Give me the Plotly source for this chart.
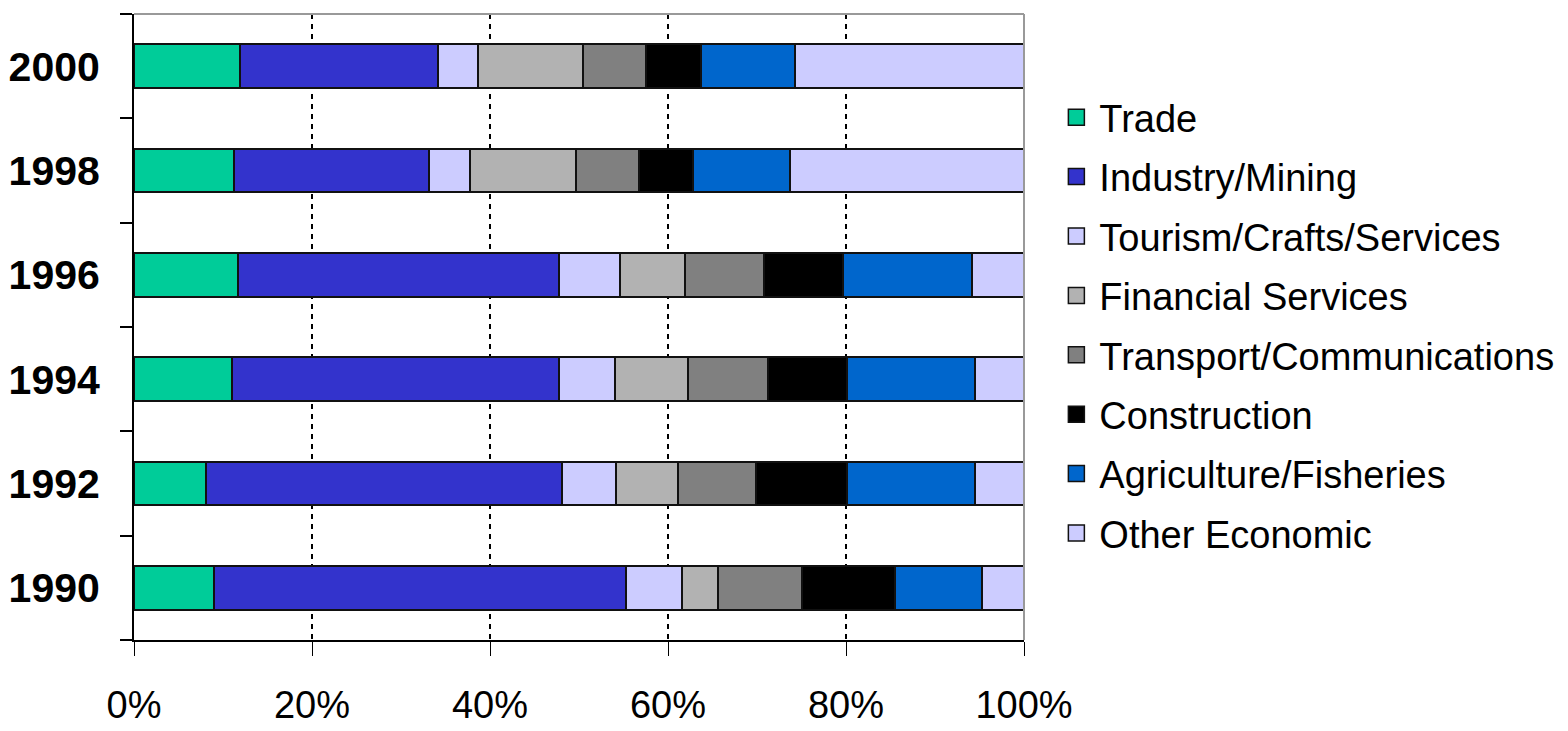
import plotly.graph_objects as go

years = ["1990", "1992", "1994", "1996", "1998", "2000"]
sectors = ["Trade", "Industry/Mining", "Tourism/Crafts/Services", "Financial Services",
           "Transport/Communications", "Construction", "Agriculture/Fisheries", "Other Economic"]
colors = ["#00CC99", "#3333CC", "#CCCCFF", "#B2B2B2", "#808080", "#000000", "#0066CC", "#CCCCFF"]

# shares (%) per sector, in order of years above
trade        = [9.0, 8.1, 11.0, 11.7, 11.2, 11.9]
industry     = [46.3, 40.0, 36.7, 36.0, 22.0, 22.3]
tourism      = [6.3, 6.1, 6.3, 6.9, 4.6, 4.5]
financial    = [4.0, 6.9, 8.3, 7.3, 11.9, 11.7]
transport    = [9.5, 8.8, 8.9, 8.9, 7.0, 7.1]
construction = [10.4, 10.2, 8.9, 8.9, 6.1, 6.2]
agriculture  = [9.8, 14.4, 14.4, 14.5, 10.9, 10.6]
other        = [4.7, 5.5, 5.5, 5.8, 26.3, 25.7]
series = [trade, industry, tourism, financial, transport, construction, agriculture, other]

x_ticks = [0, 20, 40, 60, 80, 100]
FONT = "Liberation Sans, Arial, sans-serif"

fig = go.Figure()
for name, vals, col in zip(sectors, series, colors):
    fig.add_trace(go.Bar(
        y=years, x=vals, name=name, orientation="h",
        marker=dict(color=col, line=dict(color="#111111", width=2)),
        showlegend=False,
    ))
# legend proxies (bigger square symbols)
for name, col in zip(sectors, colors):
    fig.add_trace(go.Scatter(
        x=[None], y=[None], mode="markers", name=name,
        marker=dict(symbol="square", size=16, color=col, line=dict(color="#111111", width=1.5)),
        legendgroup=name,
    ))

fig.update_layout(
    width=1568, height=731,
    margin=dict(l=134, r=544, t=14, b=91, autoexpand=False),
    paper_bgcolor="white", plot_bgcolor="white",
    barmode="stack", bargap=0.58,
    font=dict(family=FONT, color="black"),
    legend=dict(
        x=1.033, y=0.885, xanchor="left", yanchor="top",
        traceorder="grouped", tracegroupgap=7, itemwidth=36,
        font=dict(size=38, family=FONT),
        itemsizing="trace",
        bgcolor="rgba(0,0,0,0)",
    ),
    showlegend=True,
)
fig.update_xaxes(
    range=[0, 100], tickvals=x_ticks, ticktext=[f"{v}%" for v in x_ticks],
    showline=True, linecolor="black", linewidth=2,
    ticks="outside", ticklen=14, tickcolor="black", tickwidth=1,
    showgrid=True, gridcolor="black", gridwidth=2, griddash="5px,5px",
    zeroline=False, automargin=False,
    tickfont=dict(size=38, family=FONT),
    ticklabelstandoff=16,
)
fig.update_yaxes(
    type="category", categoryorder="array", categoryarray=years,
    showline=True, linecolor="black", linewidth=2,
    ticks="outside", tickson="boundaries", ticklen=12, tickcolor="black", tickwidth=2,
    showgrid=False, zeroline=False, automargin=False,
    tickfont=dict(size=41, family=FONT, weight="bold"),
    ticklabelstandoff=24,
)
# gray frame on top and right
fig.add_shape(type="line", xref="paper", yref="paper", x0=0, x1=1, y0=1, y1=1,
              line=dict(color="#999999", width=2))
fig.add_shape(type="line", xref="paper", yref="paper", x0=1, x1=1, y0=0, y1=1,
              line=dict(color="#999999", width=2))

fig.write_html("out.html")
